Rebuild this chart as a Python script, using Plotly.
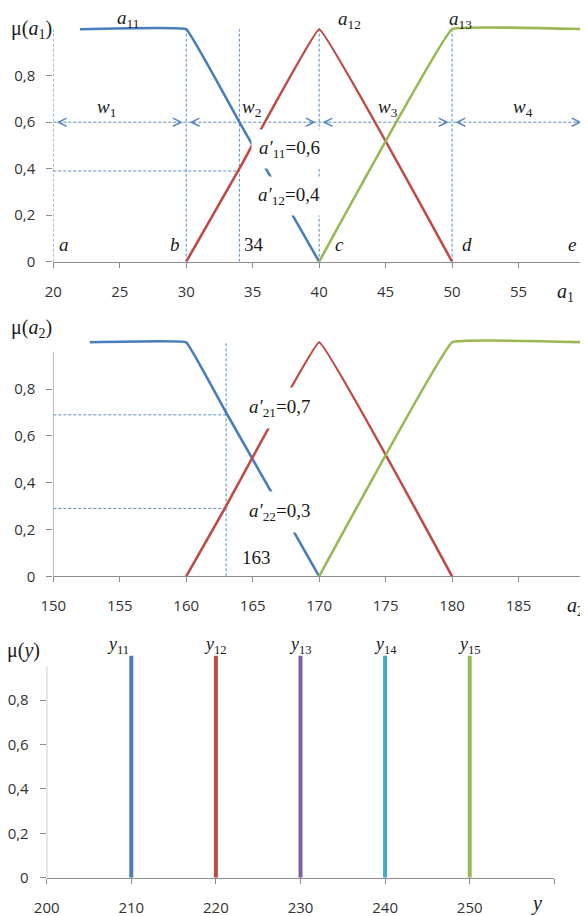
import plotly.graph_objects as go

# ---------------- data ----------------
# panel 1: terms of input a1
a11_x = [22, 30, 34, 40]
a11_y = [1, 1, 0.6, 0]
a12_x = [30, 34, 40, 50]
a12_y = [0, 0.4, 1, 0]
a13_x = [40, 50, 60]
a13_y = [0, 1, 1]
a1_bounds = [20, 30, 40, 50, 60]
a1_bound_names = ["a", "b", "c", "d", "e"]
a1_w_names = ["1", "2", "3", "4"]
a1_input = 34
a1_guide = 0.39
a1_arrow_level = 0.6
a1_ticks = [20, 25, 30, 35, 40, 45, 50, 55, 60]
a1_ticktext = ["20", "25", "30", "35", "40", "45", "50", "55", ""]

# panel 2: terms of input a2
a21_x = [152.75, 160, 163, 170]
a21_y = [1, 1, 0.7, 0]
a22_x = [160, 163, 170, 180]
a22_y = [0, 0.3, 1, 0]
a23_x = [170, 180, 190]
a23_y = [0, 1, 1]
a2_input = 163
a2_guides = [0.69, 0.29]
a2_ticks = [150, 155, 160, 165, 170, 175, 180, 185, 190]
a2_ticktext = ["150", "155", "160", "165", "170", "175", "180", "185", ""]

# panel 3: output singletons
y_centers = [210, 220, 230, 240, 250]
y_names = ["11", "12", "13", "14", "15"]
y_ticks = [200, 210, 220, 230, 240, 250, 260]
y_ticktext = ["200", "210", "220", "230", "240", "250", ""]

mu_ticks = [0, 0.2, 0.4, 0.6, 0.8]
mu_ticktext = ["0", "0,2", "0,4", "0,6", "0,8"]

# ---------------- style ----------------
OFF = 8                     # page body margin in the browser
W, H = 588 - OFF, 916 - OFF  # figure size so that it fills the window
BLUE, RED, GREEN, PURPLE, CYAN = "#4A7EBB", "#BE4B48", "#98B954", "#7D60A0", "#46AAC5"
GUIDE = "#5B8AC4"
AXIS = "#8C8C8C"
SERIF = "Liberation Serif"
SANS = "Open Sans"
TXT = "#1a1a1a"

fig = go.Figure()


def curve(x, y, color, xa, ya):
    fig.add_trace(go.Scatter(x=x, y=y, mode="lines", line=dict(color=color, width=2.6, shape="spline", smoothing=0.15),
                             xaxis=xa, yaxis=ya, hoverinfo="skip", showlegend=False))


def guide(x, y, xa, ya):
    fig.add_trace(go.Scatter(x=x, y=y, mode="lines", line=dict(color=GUIDE, width=1, dash="3px,2px"),
                             xaxis=xa, yaxis=ya, hoverinfo="skip", showlegend=False))


def label(text, x, y, xr, yr, size=19, xanchor="center", **kw):
    fig.add_annotation(text=text, x=x, y=y, xref=xr, yref=yr, showarrow=False, xanchor=xanchor,
                       font=dict(family=SERIF, size=size, color=TXT), **kw)


def plabel(text, xp, yp, size=20, xanchor="center"):
    """label placed by window pixel position (paper coordinates)"""
    fig.add_annotation(text=text, x=(xp - OFF) / W, y=1 - (yp - OFF) / H, xref="paper", yref="paper",
                       showarrow=False, xanchor=xanchor, yanchor="middle",
                       font=dict(family=SERIF, size=size, color=TXT))


# ---- panel 1 guides ----
for b in a1_bounds + [a1_input]:
    guide([b, b], [0, 1], "x", "y")
guide([a1_bounds[0], a1_input], [a1_guide, a1_guide], "x", "y")
guide([a1_bounds[0], a1_bounds[-1]], [a1_arrow_level, a1_arrow_level], "x", "y")

# ---- panel 2 guides ----
guide([a2_input, a2_input], [0, 1], "x2", "y2")
for g in a2_guides:
    guide([a2_ticks[0], a2_input], [g, g], "x2", "y2")

# ---- curves ----
curve(a11_x, a11_y, BLUE, "x", "y")
curve(a12_x, a12_y, RED, "x", "y")
curve(a13_x, a13_y, GREEN, "x", "y")
curve(a21_x, a21_y, BLUE, "x2", "y2")
curve(a22_x, a22_y, RED, "x2", "y2")
curve(a23_x, a23_y, GREEN, "x2", "y2")
for xc, col in zip(y_centers, [BLUE, RED, PURPLE, CYAN, GREEN]):
    fig.add_trace(go.Scatter(x=[xc, xc], y=[0, 1], mode="lines", line=dict(color=col, width=4),
                             xaxis="x3", yaxis="y3", hoverinfo="skip", showlegend=False))

# ---- arrow heads for w intervals ----
gap, shaft = 0.25, 0.5
w_x = [24.0, 34.9, 45.2, 55.3]
for i in range(len(a1_bounds) - 1):
    L, R = a1_bounds[i], a1_bounds[i + 1]
    for tip, tail in [(L + gap, L + gap + shaft), (R - gap, R - gap - shaft)]:
        fig.add_annotation(x=tip, y=a1_arrow_level, ax=tail, ay=a1_arrow_level, xref="x", yref="y",
                           axref="x", ayref="y", showarrow=True, text="", arrowhead=5, arrowsize=1.6,
                           arrowwidth=1, arrowcolor=GUIDE)
    label("<i>w</i><sub>" + a1_w_names[i] + "</sub>", w_x[i], 0.66, "x", "y")

# ---- panel 1 labels ----
shifts = {"a": ("left", 4), "b": ("right", -4), "c": ("left", 14), "d": ("left", 8), "e": ("right", -7)}
for b, n in zip(a1_bounds, a1_bound_names):
    anc, sh = shifts[n]
    label("<i>" + n + "</i>", b, 0.072, "x", "y", xanchor=anc, xshift=sh)
label(str(a1_input), a1_input, 0.072, "x", "y", xanchor="left", xshift=3)
label("<i>a</i><sub>11</sub>", 25.6, 1.042, "x", "y")
label("<i>a</i><sub>12</sub>", 42.3, 1.04, "x", "y")
label("<i>a</i><sub>13</sub>", 50.6, 1.038, "x", "y")
label("<i>a′</i><sub>11</sub>=0,6", 37.8, 0.483, "x", "y", bgcolor="white", borderpad=7)
label("<i>a′</i><sub>12</sub>=0,4", 37.7, 0.284, "x", "y", bgcolor="white", borderpad=7)

# ---- panel 2 labels ----
label("<i>a</i><sub>21</sub>", 155.8, 1.08, "x2", "y2")
label("<i>a</i><sub>22</sub>", 172.6, 1.08, "x2", "y2")
label("<i>a</i><sub>23</sub>", 180.9, 1.08, "x2", "y2")
label("<i>a′</i><sub>21</sub>=0,7", 167.05, 0.72, "x2", "y2", bgcolor="white", borderpad=8)
label("<i>a′</i><sub>22</sub>=0,3", 167.0, 0.274, "x2", "y2", bgcolor="white", borderpad=8)
label(str(a2_input), 165.3, 0.081, "x2", "y2")

# ---- panel 3 labels ----
for i, (xc, n) in enumerate(zip(y_centers, y_names)):
    label("<i>y</i><sub>" + n + "</sub>", xc, 1.048, "x3", "y3", size=18, xshift=-13 if i == 0 else 0)

# ---- axis titles and mu titles (window pixels) ----
plabel("<i>a</i><sub>1</sub>", 565, 292)
plabel("<i>a</i><sub>2</sub>", 565, 606, xanchor="left")
plabel("<i>y</i>", 536, 903)
plabel("μ(<i>a</i><sub>1</sub>)", 31.7, 29.5)
plabel("μ(<i>a</i><sub>2</sub>)", 31.7, 328.3)
plabel("μ(<i>y</i>)", 23.3, 650)

# ---- y-axis lines for panels 2 and 3 ----
fig.add_shape(type="line", x0=150, x1=150, y0=0, y1=0.96, xref="x2", yref="y2", line=dict(color=AXIS, width=1))
fig.add_shape(type="line", x0=200, x1=200, y0=0, y1=0.95, xref="x3", yref="y3", line=dict(color=AXIS, width=1))


def xax(dom, anchor, rng, tv, tt):
    return dict(domain=dom, anchor=anchor, range=rng, tickvals=tv, ticktext=tt, showgrid=False, zeroline=False,
                showline=True, linecolor=AXIS, linewidth=1, ticks="outside", ticklen=5, tickcolor=AXIS,
                tickfont=dict(family=SANS, size=15, color="#333333"), ticklabelstandoff=11, automargin=False)


def yax(dom, anchor):
    return dict(domain=dom, anchor=anchor, range=[0, 1.06], tickvals=mu_ticks, ticktext=mu_ticktext,
                showgrid=False, zeroline=False, showline=False, ticks="outside", ticklen=6, tickcolor=AXIS,
                tickfont=dict(family=SANS, size=15, color="#333333"), ticklabelstandoff=8, automargin=False)


def ydom(y0px, unit):
    y0 = y0px - OFF
    top = y0 - 1.06 * unit
    return [(H - y0) / H, (H - top) / H]


def xdom(x0px, x1px):
    return [(x0px - OFF) / W, (x1px - OFF) / W]


fig.update_layout(
    width=W, height=H, margin=dict(l=0, r=0, t=0, b=0, pad=0, autoexpand=False),
    paper_bgcolor="white", plot_bgcolor="white",
    xaxis=xax(xdom(53.3, 585), "y", [20, 60], a1_ticks, a1_ticktext),
    yaxis=yax(ydom(261.7, 232.5), "x"),
    xaxis2=xax(xdom(53.3, 585), "y2", [150, 190], a2_ticks, a2_ticktext),
    yaxis2=yax(ydom(576.3, 234), "x2"),
    xaxis3=xax(xdom(46.7, 554.3), "y3", [200, 260], y_ticks, y_ticktext),
    yaxis3=yax(ydom(877.7, 222), "x3"),
    showlegend=False,
)

fig.write_html("out.html")
